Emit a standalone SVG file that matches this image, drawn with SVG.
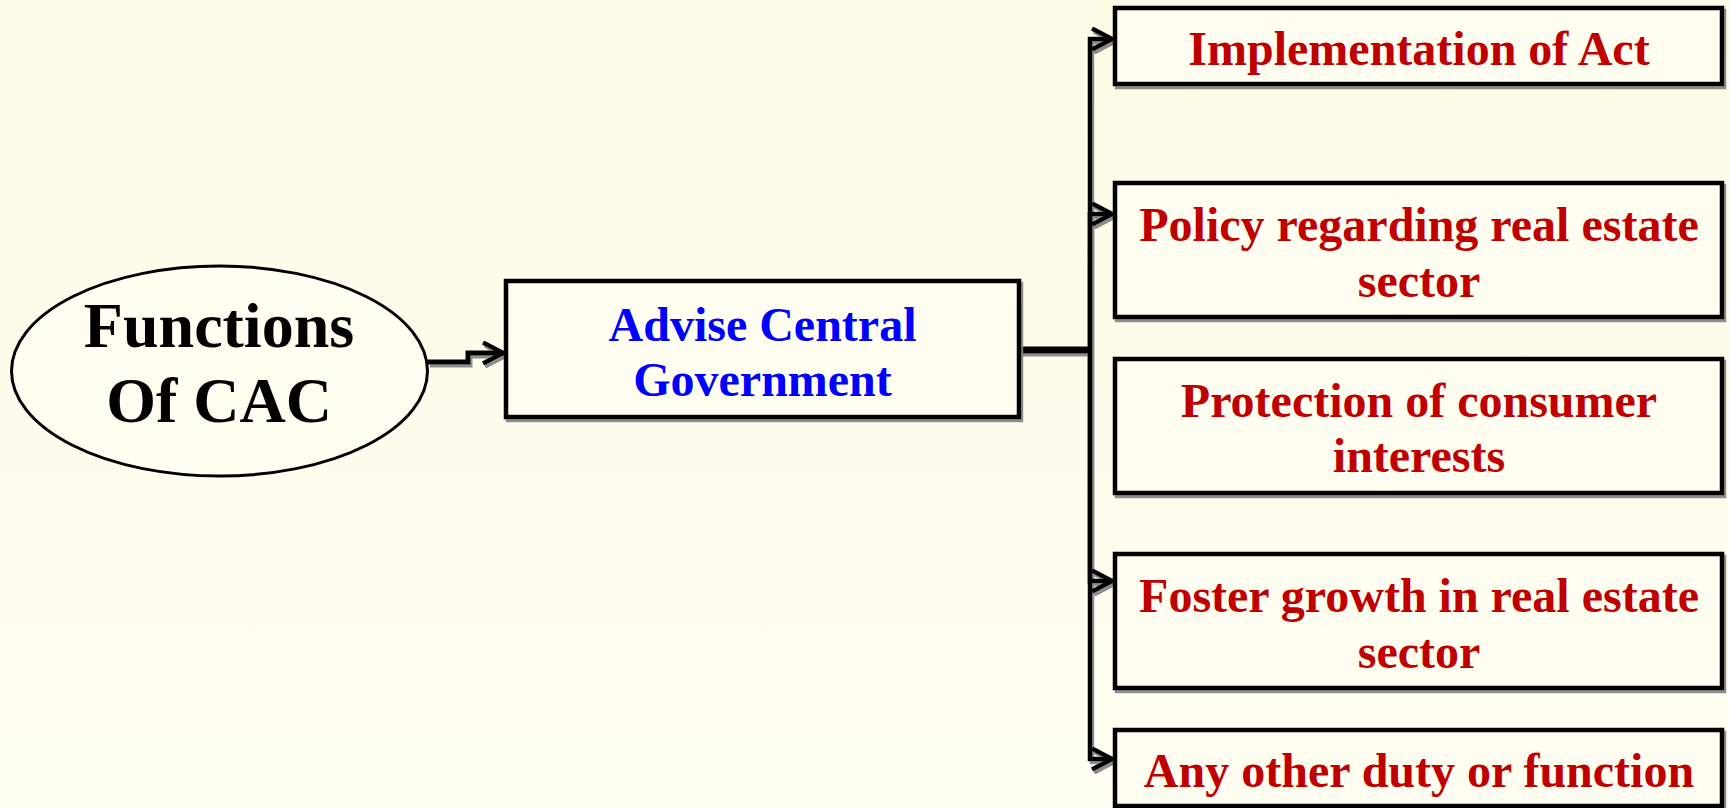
<svg xmlns="http://www.w3.org/2000/svg" width="1729" height="808" viewBox="0 0 1729 808">
<style>
  .box { fill: #FFFEF0; stroke: #000; stroke-width: 4.5; }
  .conn { fill: none; stroke: #000; stroke-width: 4.5; stroke-linejoin: miter; }
  .trunk { fill: none; stroke: #000; stroke-width: 7; }
  .t48 { font-family: "Liberation Serif", "Times New Roman", serif; font-weight: bold; font-size: 48px; text-anchor: middle; }
  .red { fill: #C00000; }
  .blue { fill: #0000FF; }
  .big { font-family: "Liberation Serif", "Times New Roman", serif; font-weight: bold; font-size: 64px; text-anchor: middle; fill: #000; }
</style>
<defs>
  <linearGradient id="bg" x1="0" y1="0" x2="0" y2="1">
    <stop offset="0" stop-color="#FDFAE5"/>
    <stop offset="1" stop-color="#FFFFF3"/>
  </linearGradient>
  <filter id="sh" x="-10%" y="-10%" width="130%" height="130%">
    <feDropShadow dx="2" dy="3" stdDeviation="0.6" flood-color="#808080" flood-opacity="0.9"/>
  </filter>
  <marker id="arr" viewBox="0 0 24 24" markerWidth="24" markerHeight="24" refX="21" refY="12" orient="auto" markerUnits="userSpaceOnUse">
    <path d="M1,1.5 L21,12 L1,22.5" fill="none" stroke="#000" stroke-width="4.5"/>
  </marker>
</defs>
<rect x="0" y="0" width="1729" height="808" fill="url(#bg)"/>

<g id="connectors" filter="url(#sh)">
  <path class="conn" d="M428,362 H468 V353 H503" marker-end="url(#arr)" style="stroke-width:5"/>
  <path class="trunk" d="M1019,350 H1092"/>
  <path class="conn" d="M1090,350 V39 H1112" marker-end="url(#arr)"/>
  <path class="conn" d="M1090,350 V214 H1112" marker-end="url(#arr)"/>
  <path class="conn" d="M1090,350 V581 H1112" marker-end="url(#arr)"/>
  <path class="conn" d="M1090,350 V759 H1112" marker-end="url(#arr)"/>
</g>

<g id="node-functions">
  <ellipse cx="219.5" cy="371" rx="208" ry="105" fill="#FFFEF0" stroke="#000" stroke-width="3"/>
  <text class="big" x="219" y="347">Functions</text>
  <text class="big" x="219" y="422">Of CAC</text>
</g>

<g id="node-advise">
  <rect class="box" x="506" y="281" width="513" height="136" filter="url(#sh)"/>
  <text class="t48 blue" x="762.5" y="341">Advise Central</text>
  <text class="t48 blue" x="762.5" y="396">Government</text>
</g>

<g id="node-implementation">
  <rect class="box" x="1115" y="8" width="607" height="76" filter="url(#sh)"/>
  <text class="t48 red" x="1419" y="65">Implementation of Act</text>
</g>

<g id="node-policy">
  <rect class="box" x="1115" y="183" width="607" height="134" filter="url(#sh)"/>
  <text class="t48 red" x="1419" y="241">Policy regarding real estate</text>
  <text class="t48 red" x="1419" y="297">sector</text>
</g>

<g id="node-protection">
  <rect class="box" x="1115" y="359" width="607" height="134" filter="url(#sh)"/>
  <text class="t48 red" x="1419" y="417">Protection of consumer</text>
  <text class="t48 red" x="1419" y="472">interests</text>
</g>

<g id="node-foster">
  <rect class="box" x="1115" y="554" width="607" height="134" filter="url(#sh)"/>
  <text class="t48 red" x="1419" y="612">Foster growth in real estate</text>
  <text class="t48 red" x="1419" y="668">sector</text>
</g>

<g id="node-other">
  <rect class="box" x="1115" y="730" width="607" height="76" filter="url(#sh)"/>
  <text class="t48 red" x="1419" y="787">Any other duty or function</text>
</g>
</svg>
